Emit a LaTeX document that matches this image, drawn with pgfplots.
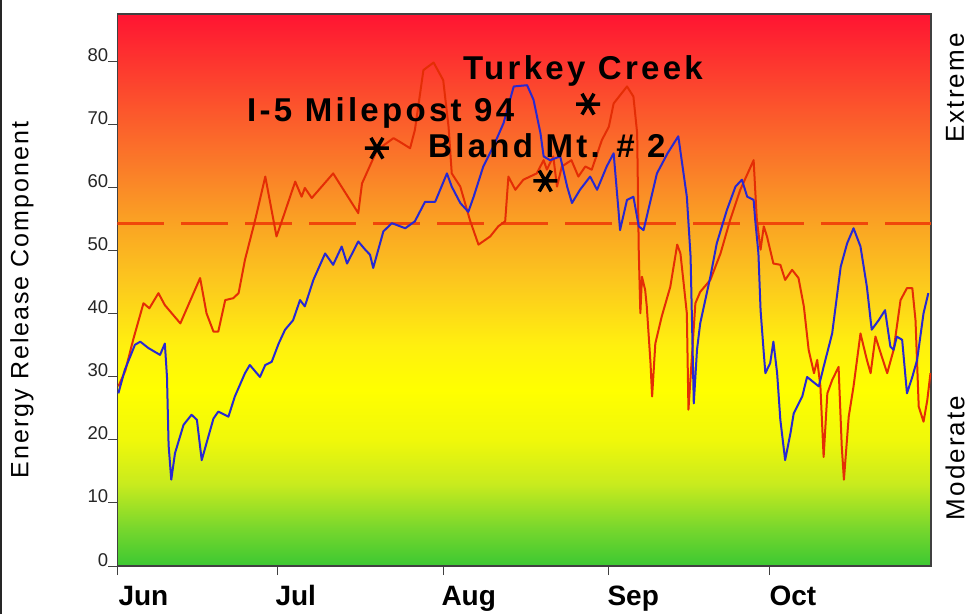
\documentclass[border=0pt]{standalone}
\usepackage{fontspec}
\setmainfont{Liberation Sans}
\newfontfamily\spaced[LetterSpace=8]{Liberation Sans}
\newfontfamily\spacedB[LetterSpace=10]{Liberation Sans}
\usepackage{pgfplots}
\usepackage{pgfplotstable}
\pgfplotsset{compat=1.18}

\definecolor{c0}{RGB}{60,200,50}
\definecolor{c1}{RGB}{120,215,45}
\definecolor{c2}{RGB}{200,235,30}
\definecolor{c3}{RGB}{240,248,10}
\definecolor{c4}{RGB}{255,255,0}
\definecolor{c5}{RGB}{255,240,15}
\definecolor{c6}{RGB}{252,200,30}
\definecolor{c7}{RGB}{250,165,35}
\definecolor{c8}{RGB}{250,130,40}
\definecolor{c9}{RGB}{252,75,45}
\definecolor{c10}{RGB}{255,20,50}
\definecolor{redline}{RGB}{228,45,5}
\definecolor{blueline}{RGB}{40,40,210}
\definecolor{dashcol}{RGB}{240,70,10}

\pgfdeclareverticalshading{ercbg}{100bp}{color(0bp)=(c0); color(25bp)=(c0); color(28.42bp)=(c1); color(32.42bp)=(c2); color(36.42bp)=(c3); color(40.98bp)=(c4); color(44.98bp)=(c5); color(50.68bp)=(c6); color(55.82bp)=(c7); color(60.39bp)=(c8); color(67.81bp)=(c9); color(75bp)=(c10); color(100bp)=(c10)}

\pgfplotstableread{
day value
0.2 28.5
1.5 31
3 36
4.9 41.7
6 40.9
7.7 43.3
8.9 41.4
11.8 38.5
15.5 45.7
16.7 40.1
18 37.2
18.9 37.2
20.2 42.2
21.7 42.5
22.7 43.3
23.9 48.6
25.8 54.9
27.7 61.8
29.8 52.3
31.1 55.5
33.3 61.0
34.5 58.6
35.1 60
36.4 58.4
40.4 62.3
45.1 56
45.8 60.7
48.6 66
51.7 67.9
52.9 67.3
54.8 66.3
55.7 69.2
57.3 78.7
59.2 79.9
61 77.1
62 69.7
62.6 62.3
64.2 60.2
66 54.9
67.6 51
69.8 52.3
71.3 53.9
72.6 54.7
73.2 61.8
74.5 59.7
76 61.3
78.5 62.3
79.8 64.4
80.4 62.9
81.6 65
82.3 60.2
83.2 63.4
85 64.4
86.3 61.8
87.6 63.4
88.8 62.9
90.7 67.6
92 69.7
92.9 73.4
95.4 76.1
96.6 74.5
97.3 68.7
97.6 50
97.9 40.1
98.2 45.9
98.8 43.8
99.1 41.2
99.8 32.2
100.1 26.9
100.7 35.3
101.9 39.6
103.5 44.3
104.8 51
105.4 49.6
106 44.9
106.6 40.1
106.9 24.8
108.2 41.7
109.1 43.5
111 45.4
112.9 49.6
114.7 54.9
116.6 59.7
119.1 64.4
119.7 54.9
120.4 50.2
121 53.9
121.6 52.3
122.8 48
124.1 47.8
125 45.4
126.3 47
127.5 45.7
128.5 41.2
129.4 34.3
130.4 30.6
131 32.7
131.6 28.5
132.2 17.3
132.9 27.4
133.8 29.5
135 31.6
135.6 18.9
136 13.7
136.9 23.7
137.8 28.5
139.1 36.9
140.3 32.7
141 30.6
141.9 36.4
143.1 33.2
144.1 30.6
145.3 34.3
146.6 42.2
147.8 44.1
148.8 44.1
149.4 39
150 25.3
150.9 22.9
151.6 26.3
152.2 30.6
}\redtable

\pgfplotstableread{
day value
0.2 27.4
1.4 31.1
3.3 35.1
4.3 35.6
5.8 34.6
8 33.5
8.9 35.3
9.3 30
9.6 19.2
10.1 13.7
10.8 17.9
12.4 22.4
13.9 24
14.9 23.2
15.8 16.8
16.7 19.5
18 23.4
18.9 24.5
20.8 23.7
22 26.9
23.9 30.6
24.8 31.9
26.7 30
27.7 31.9
28.9 32.4
30.2 35.3
31.4 37.5
32.9 39
34.2 42.2
35.1 41.2
36.7 45.4
38.9 49.6
40.4 47.8
42 50.7
43 48
45.1 51.5
46.4 50.2
47.3 49.4
47.9 47.3
49.8 53.1
51.4 54.4
53.9 53.6
55.7 54.7
57.6 57.8
59.5 57.8
61.7 62.3
62.6 60.2
64.2 57.6
65.7 56.2
66.7 58.6
68.5 63.4
70.4 66.6
72.3 70.3
74.2 76.1
76.7 76.3
77.9 74
79.2 68.7
79.8 65
81 64.4
82.9 65
84.2 60.2
85.1 57.6
86.6 59.7
88.5 61.8
89.8 59.7
91.6 63.4
92.9 65.5
93.8 56.5
94.1 53.3
95.4 58.1
96.6 58.6
97.6 53.9
98.5 53.3
101 62.3
103 65.5
105 68.2
106.6 58.6
107.3 49.1
107.9 25.8
108.5 34.3
109.1 38.5
111 45.9
112.2 51.2
114.1 56.5
115.7 60.2
116.9 61.3
117.9 58.6
119.1 58.1
119.4 54.9
120 49.6
120.4 40.6
121 33.8
121.3 30.6
122.2 32.2
122.8 35.6
123.5 30.6
124.1 23.2
125 16.8
126 21.1
126.6 24.2
128.2 26.9
129.1 30
131.3 28.5
132.2 31.6
133.8 36.9
135.4 47.5
136.6 51.2
137.8 53.6
139.1 50.7
140.3 44.3
141.2 37.5
142.5 39
143.7 40.6
144.7 34.8
145.3 34.3
145.9 36.4
146.9 35.9
147.8 27.4
148.8 30
149.7 32.7
150.9 40.1
151.8 43.3
}\bluetable

\begin{document}
\begin{tikzpicture}
\path[use as bounding box] (-117.3pt,-48pt) rectangle (851.7pt,566pt);
\fill[white] (-117.3pt,-48pt) rectangle (851.7pt,566pt);
\draw[black!85, line width=2pt] (-116.3pt,-48pt) -- (-116.3pt,566pt);
\begin{axis}[
  at={(0pt,0pt)}, anchor=south west,
  scale only axis, width=813.7pt, height=552pt,
  xmin=0, xmax=152.3, ymin=0, ymax=87.6,
  axis background/.style={shading=ercbg},
  xtick={0,30,61,92,122}, xticklabels={},
  ytick={0,10,...,80},
  tick pos=left, tick align=outside,
  major tick length=9pt,
  tick style={black!75, line width=1pt},
  axis line style={black!75, line width=1.3pt},
  yticklabel style={anchor=base east, inner sep=0pt, text=black!85, font=\fontsize{18.5}{20}\selectfont},
  /pgf/number format/assume math mode=true,
  clip=true,
]
\addplot[dashcol, line width=3pt, dash pattern=on 47pt off 17pt] coordinates {(0,54.3) (152.3,54.3)};
\addplot[redline, line width=2pt, line join=round] table[x=day, y=value] {\redtable};
\addplot[blueline, line width=2pt, line join=round] table[x=day, y=value] {\bluetable};
\addplot[only marks, mark=asterisk, mark size=12pt, mark options={rotate=90, line width=3.5pt, black}] coordinates {(48.6,66.3) (80.1,61.1) (88.1,73.3)};
\end{axis}
\begin{scope}[font=\fontsize{33}{35}\selectfont\bfseries\spacedB]
\node[anchor=base west, inner sep=0pt] at (345.7pt,486pt) {Turkey Creek};
\node[anchor=base west, inner sep=0pt] at (129.7pt,444pt) {I-5 Milepost 94};
\node[anchor=base west, inner sep=0pt] at (310.7pt,408pt) {Bland Mt. \# 2};
\end{scope}
\begin{scope}[font=\fontsize{28}{30}\selectfont\bfseries]
\node[anchor=base west, inner sep=0pt] at (1pt,-39pt) {Jun};
\node[anchor=base west, inner sep=0pt] at (158pt,-39pt) {Jul};
\node[anchor=base west, inner sep=0pt] at (324pt,-39pt) {Aug};
\node[anchor=base west, inner sep=0pt] at (490pt,-39pt) {Sep};
\node[anchor=base west, inner sep=0pt] at (652pt,-39pt) {Oct};
\end{scope}
\node[rotate=90, font=\fontsize{25}{27}\selectfont\spaced] at (-95.3pt,266pt) {Energy Release Component};
\node[rotate=90, font=\fontsize{26}{28}\selectfont\spaced] at (837.7pt,478pt) {Extreme};
\node[rotate=90, font=\fontsize{26}{28}\selectfont\spaced] at (837.7pt,108pt) {Moderate};
\end{tikzpicture}
\end{document}
